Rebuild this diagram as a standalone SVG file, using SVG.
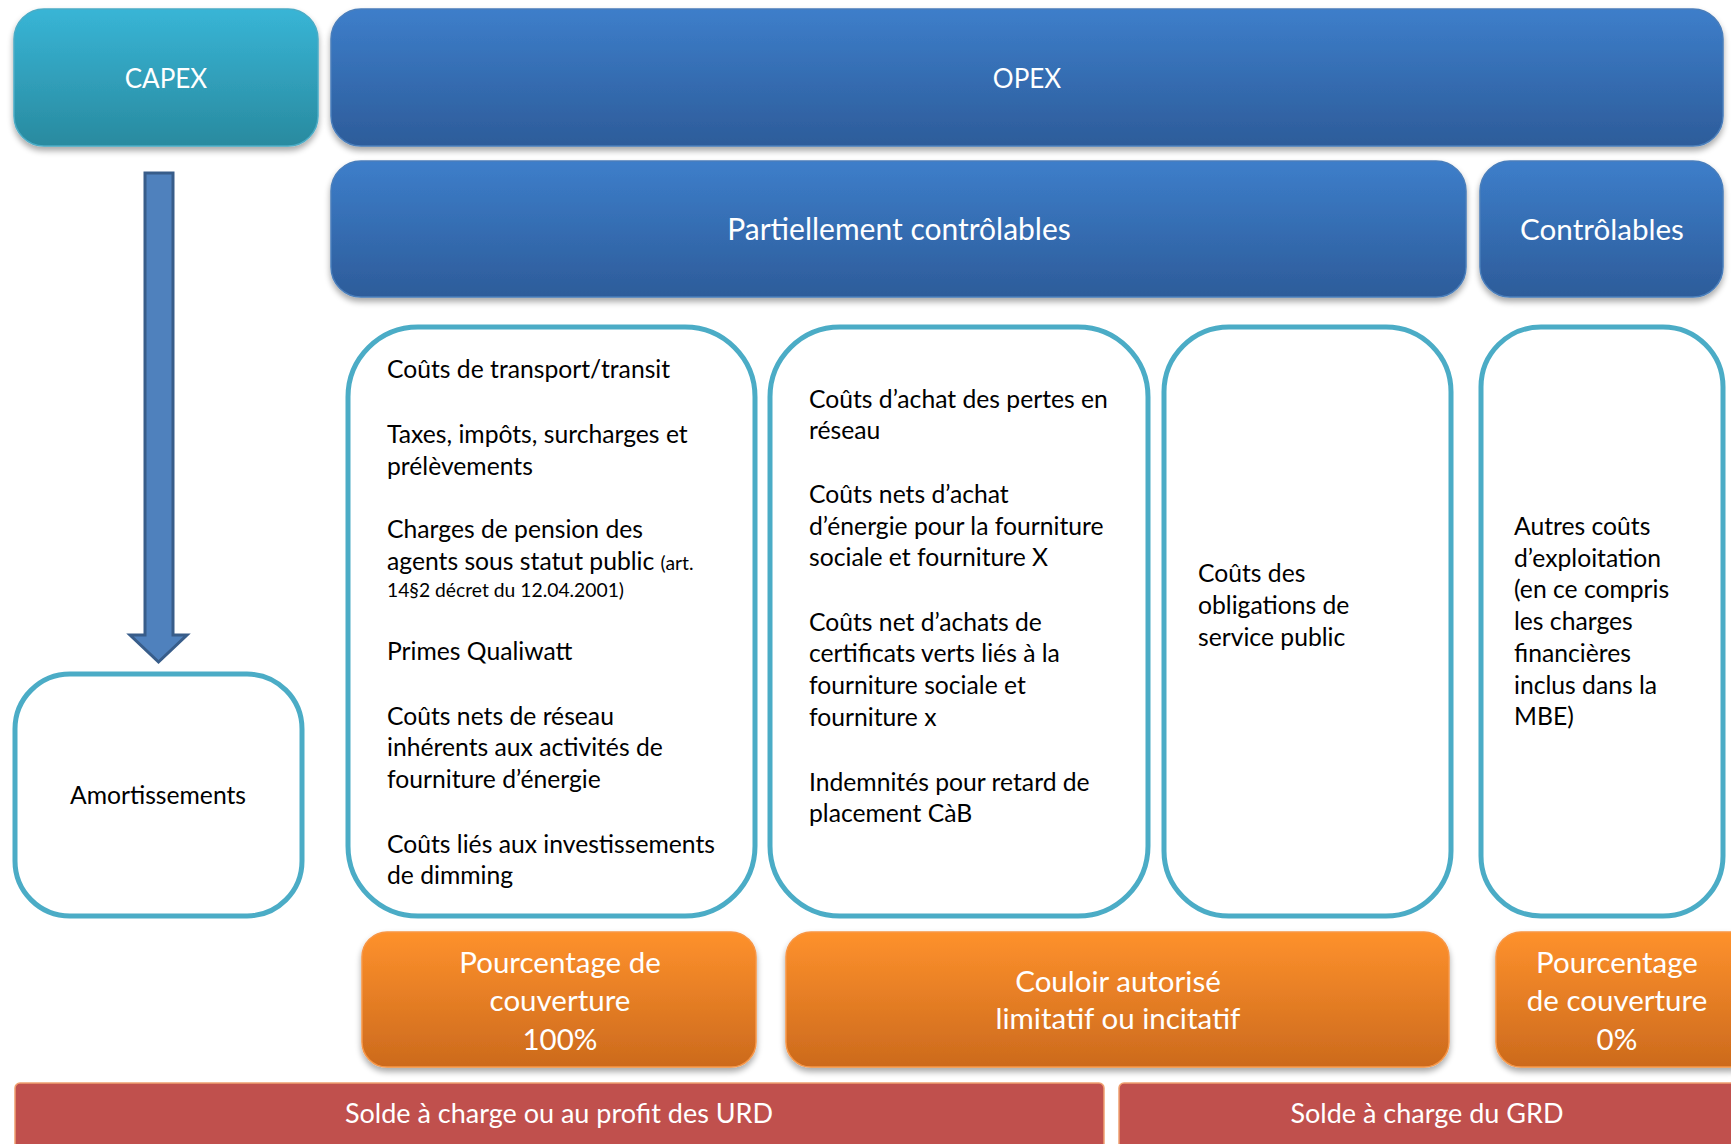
<svg xmlns="http://www.w3.org/2000/svg" width="1731" height="1144" viewBox="0 0 1731 1144">
<defs>
<linearGradient id="gTeal" x1="0" y1="0" x2="0" y2="1"><stop offset="0" stop-color="#38b5d6"/><stop offset="1" stop-color="#298a9f"/></linearGradient>
<linearGradient id="gBlue" x1="0" y1="0" x2="0" y2="1"><stop offset="0" stop-color="#3d7eca"/><stop offset="1" stop-color="#2d5c9a"/></linearGradient>
<linearGradient id="gOrange" x1="0" y1="0" x2="0" y2="1"><stop offset="0" stop-color="#fe912c"/><stop offset="1" stop-color="#cc6a1d"/></linearGradient>
<filter id="sh" x="-5%" y="-10%" width="110%" height="130%"><feGaussianBlur in="SourceAlpha" stdDeviation="3"/><feOffset dy="4"/><feComponentTransfer><feFuncA type="linear" slope="0.35"/></feComponentTransfer><feMerge><feMergeNode/><feMergeNode in="SourceGraphic"/></feMerge></filter>
</defs>
<style>
.hdr{stroke:#4a7ebb;stroke-width:1.5;filter:url(#sh)}
.cap{fill:url(#gTeal);stroke:#4bacc6;stroke-width:1.5;filter:url(#sh)}
.blue{fill:url(#gBlue)}
.card{fill:#ffffff;stroke:#4bacc6;stroke-width:5}
.org{fill:url(#gOrange);stroke:#f79646;stroke-width:1.5;filter:url(#sh)}
.red{fill:#c0504d;stroke:#f0a070;stroke-width:1.5}
.wt{font-family:Lato,"Liberation Sans",sans-serif;fill:#ffffff;text-anchor:middle}
.bt{font-family:Lato,"Liberation Sans",sans-serif;fill:#000000;font-size:24.7px}
.sm{font-size:19.3px}
.arrow{fill:#4f81bd;stroke:#385d8a;stroke-width:3}
</style>
<g id="capex"><rect class="cap" x="14" y="9" width="304" height="137" rx="30"/><text class="wt" x="166" y="88" font-size="26">CAPEX</text></g>
<g id="opex"><rect class="blue hdr" x="331" y="9" width="1392" height="137" rx="30"/><text class="wt" x="1027" y="88" font-size="26">OPEX</text></g>
<g id="partiellement"><rect class="blue hdr" x="331" y="161" width="1135" height="136" rx="30"/><text class="wt" x="899" y="240" font-size="30">Partiellement contrôlables</text></g>
<g id="controlables"><rect class="blue hdr" x="1480" y="161" width="243" height="136" rx="30"/><text class="wt" x="1602" y="240" font-size="29.6">Contrôlables</text></g>
<g id="connectors"><path class="arrow" d="M145,173 H173 V635 H187 L158.5,662 L130,635 H145 Z"/></g>
<g id="amortissements"><rect class="card" x="15" y="674" width="287" height="242" rx="55"/><text class="bt" x="158" y="804" text-anchor="middle">Amortissements</text></g>
<g id="box1"><rect class="card" x="348" y="327" width="407" height="589" rx="70"/>
<text class="bt" x="387" y="378">Coûts de transport/transit</text>
<text class="bt" x="387" y="443">Taxes, impôts, surcharges et</text>
<text class="bt" x="387" y="475">prélèvements</text>
<text class="bt" x="387" y="538">Charges de pension des</text>
<text class="bt" x="387" y="570">agents sous statut public <tspan class="sm">(art.</tspan></text>
<text class="bt sm" x="387" y="597">14§2 décret du 12.04.2001)</text>
<text class="bt" x="387" y="660">Primes Qualiwatt</text>
<text class="bt" x="387" y="725">Coûts nets de réseau</text>
<text class="bt" x="387" y="756">inhérents aux activités de</text>
<text class="bt" x="387" y="788">fourniture d’énergie</text>
<text class="bt" x="387" y="853">Coûts liés aux investissements</text>
<text class="bt" x="387" y="884">de dimming</text>
</g>
<g id="box2"><rect class="card" x="770" y="327" width="378" height="589" rx="70"/>
<text class="bt" x="809" y="408">Coûts d’achat des pertes en</text>
<text class="bt" x="809" y="439">réseau</text>
<text class="bt" x="809" y="503">Coûts nets d’achat</text>
<text class="bt" x="809" y="535">d’énergie pour la fourniture</text>
<text class="bt" x="809" y="566">sociale et fourniture X</text>
<text class="bt" x="809" y="631">Coûts net d’achats de</text>
<text class="bt" x="809" y="662">certificats verts liés à la</text>
<text class="bt" x="809" y="694">fourniture sociale et</text>
<text class="bt" x="809" y="726">fourniture x</text>
<text class="bt" x="809" y="791">Indemnités pour retard de</text>
<text class="bt" x="809" y="822">placement CàB</text>
</g>
<g id="box3"><rect class="card" x="1164" y="327" width="287" height="589" rx="65"/>
<text class="bt" x="1198" y="582">Coûts des</text>
<text class="bt" x="1198" y="614">obligations de</text>
<text class="bt" x="1198" y="646">service public</text>
</g>
<g id="box4"><rect class="card" x="1481" y="327" width="242" height="589" rx="60"/>
<text class="bt" x="1514" y="535">Autres coûts</text>
<text class="bt" x="1514" y="567">d’exploitation</text>
<text class="bt" x="1514" y="598">(en ce compris</text>
<text class="bt" x="1514" y="630">les charges</text>
<text class="bt" x="1514" y="662">financières</text>
<text class="bt" x="1514" y="694">inclus dans la</text>
<text class="bt" x="1514" y="725">MBE)</text>
</g>
<g id="orange1"><rect class="org" x="362" y="932" width="394" height="135" rx="25"/>
<text class="wt" x="560" y="973" font-size="29.5">Pourcentage de</text>
<text class="wt" x="560" y="1011" font-size="29.5">couverture</text>
<text class="wt" x="560" y="1050" font-size="29.5">100%</text></g>
<g id="orange2"><rect class="org" x="786" y="932" width="663" height="135" rx="25"/>
<text class="wt" x="1118" y="992" font-size="29.5">Couloir autorisé</text>
<text class="wt" x="1118" y="1029" font-size="29.5">limitatif ou incitatif</text></g>
<g id="orange3"><rect class="org" x="1496" y="932" width="260" height="135" rx="25"/>
<text class="wt" x="1617" y="973" font-size="29.5">Pourcentage</text>
<text class="wt" x="1617" y="1011" font-size="29.5">de couverture</text>
<text class="wt" x="1617" y="1050" font-size="29.5">0%</text></g>
<g id="red1"><rect class="red" x="15" y="1083" width="1089" height="80" rx="5"/><text class="wt" x="559" y="1123" font-size="27">Solde à charge ou au profit des URD</text></g>
<g id="red2"><rect class="red" x="1119" y="1083" width="630" height="80" rx="5"/><text class="wt" x="1427" y="1123" font-size="27">Solde à charge du GRD</text></g>
</svg>
